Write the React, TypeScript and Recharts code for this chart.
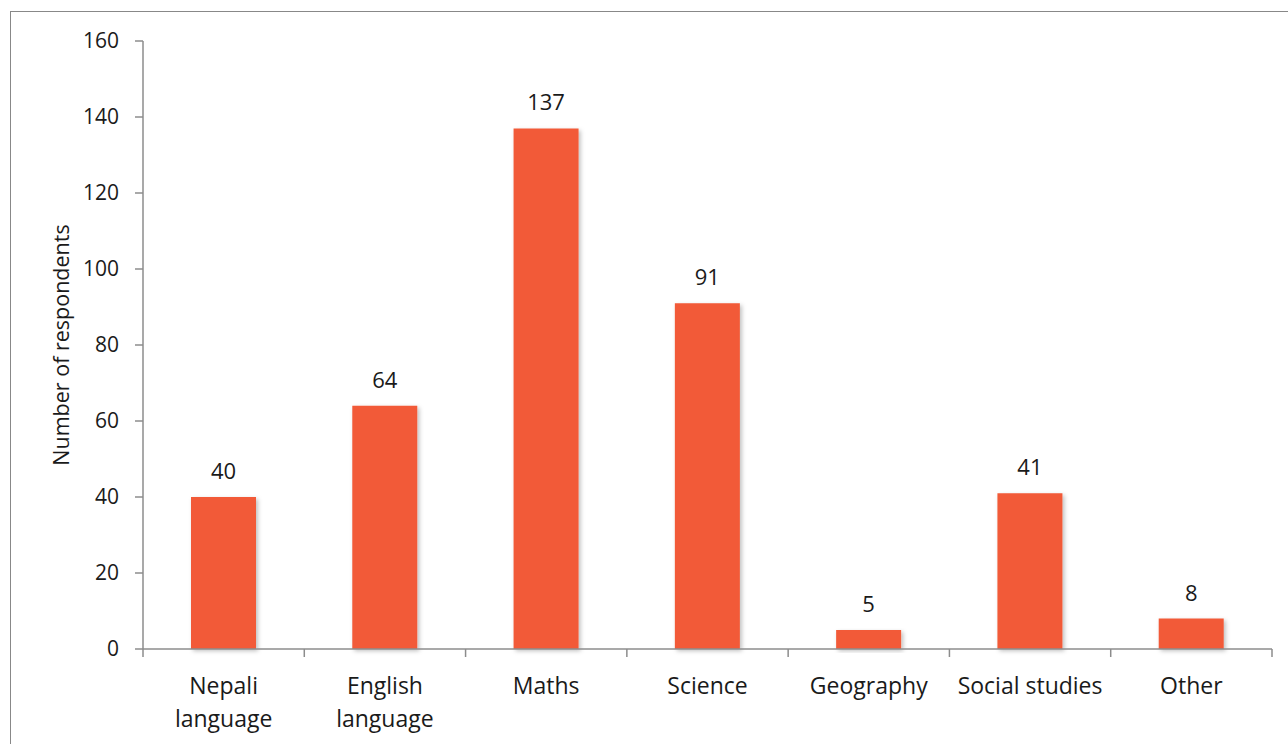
import { Bar, BarChart, LabelList, XAxis, YAxis } from "recharts";

const subjects = [
  "Nepali\nlanguage",
  "English\nlanguage",
  "Maths",
  "Science",
  "Geography",
  "Social studies",
  "Other",
];
const respondents = [40, 64, 137, 91, 5, 41, 8];
const yTicks = [0, 20, 40, 60, 80, 100, 120, 140, 160];

const data = subjects.map((name, i) => ({ name, value: respondents[i] }));

const FONT = "'Open Sans', 'Segoe UI', sans-serif";
const TEXT = "#1a1a1a";
const AXIS = "#8c8c8c";
const BAR = "#F25A37";

function CategoryTick(props: any) {
  const { x, y, payload, index, visibleTicksCount, width } = props;
  const band = width / visibleTicksCount;
  const lines = String(payload.value).split("\n");
  const left = x - band / 2;
  return (
    <g>
      <line x1={left} x2={left} y1={y} y2={y + 8} stroke={AXIS} strokeWidth={1.5} />
      {index === visibleTicksCount - 1 && (
        <line x1={x + band / 2} x2={x + band / 2} y1={y} y2={y + 8} stroke={AXIS} strokeWidth={1.5} />
      )}
      {lines.map((l, i) => (
        <text
          key={i}
          x={x}
          y={y + 45 + i * 33}
          textAnchor="middle"
          fill={TEXT}
          fontSize={23}
          fontFamily={FONT}
          fontWeight={400}
        >
          {l}
        </text>
      ))}
    </g>
  );
}

export default function App() {
  return (
    <div
      style={{
        position: "absolute",
        left: 0,
        top: 0,
        width: 1288,
        height: 744,
        overflow: "hidden",
        background: "#fff",
      }}
    >
      <div
        style={{
          position: "absolute",
          left: 10,
          top: 11,
          width: 1400,
          height: 900,
          border: "1.5px solid #888",
          boxSizing: "border-box",
        }}
      />
      <div style={{ position: "absolute", left: 0, top: 0 }}>
        <BarChart
          width={1288}
          height={744}
          data={data}
          margin={{ top: 41, right: 16, left: 0, bottom: 0 }}
          barCategoryGap="30%"
        >
          <defs>
            <filter id="barShadow" x="-10%" y="-10%" width="130%" height="130%">
              <feDropShadow dx="2" dy="2" stdDeviation="2" floodColor="#000" floodOpacity="0.25" />
            </filter>
          </defs>
          <XAxis
            dataKey="name"
            height={95}
            interval={0}
            tickLine={false}
            tickSize={0}
            tickMargin={0}
            axisLine={{ stroke: AXIS, strokeWidth: 1.5 }}
            tick={<CategoryTick />}
          />
          <YAxis
            width={143}
            domain={[0, 160]}
            ticks={yTicks}
            interval={0}
            tickSize={8}
            tickMargin={16}
            axisLine={{ stroke: AXIS, strokeWidth: 1.5 }}
            tickLine={{ stroke: AXIS, strokeWidth: 1.5 }}
            tick={{ fill: TEXT, fontSize: 21, fontFamily: FONT, fontWeight: 400 }}
            label={{
              value: "Number of respondents",
              angle: -90,
              position: "center",
              dx: -10,
              fill: TEXT,
              fontSize: 21.5,
              fontFamily: FONT,
              fontWeight: 400,
            }}
          />
          <Bar
            dataKey="value"
            fill={BAR}
            barSize={65}
            filter="url(#barShadow)"
            isAnimationActive={false}
          >
            <LabelList
              dataKey="value"
              position="top"
              offset={18}
              fill={TEXT}
              fontSize={22}
              fontFamily={FONT}
              fontWeight={400}
            />
          </Bar>
        </BarChart>
      </div>
    </div>
  );
}
